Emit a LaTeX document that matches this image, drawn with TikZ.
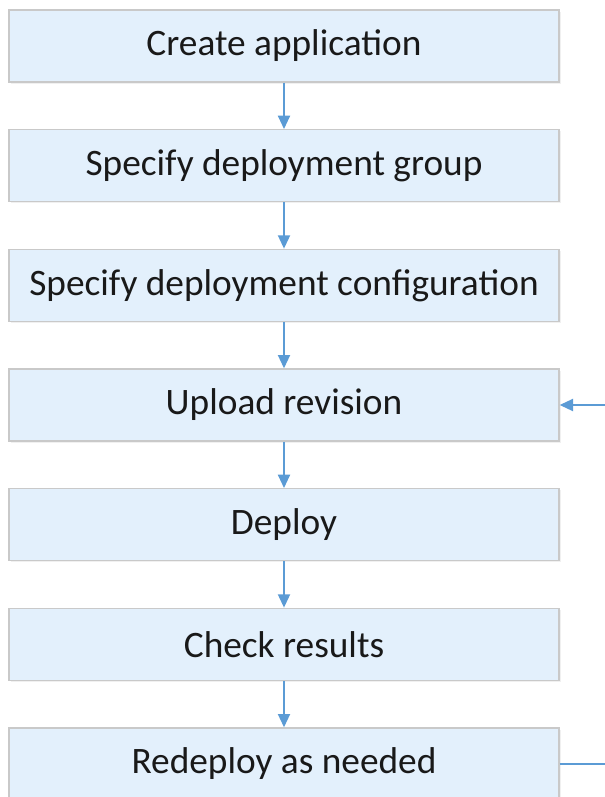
\documentclass[tikz,border=0pt]{standalone}
\usepackage{fontspec}
\setmainfont{Carlito}
\usepackage{tikz}
\usetikzlibrary{positioning,shadows,arrows.meta}

\definecolor{boxfill}{HTML}{E3F0FC}
\definecolor{boxline}{HTML}{C9C9C9}
\definecolor{flowblue}{HTML}{5B9BD5}

\tikzset{
  stepbox/.style={draw=boxline,line width=1pt,fill=boxfill,
    minimum width=412.5pt,minimum height=54pt,inner sep=0pt,
    font=\fontsize{28}{32}\selectfont,text=black!90,
    drop shadow={opacity=0.12,shadow xshift=1.2pt,shadow yshift=-1.2pt}},
  flow/.style={draw=flowblue,line width=1.4pt,-{Triangle[width=9pt,length=10pt]}},
  flowline/.style={draw=flowblue,line width=1.4pt}
}

\begin{document}
\begin{tikzpicture}[x=0.75pt,y=-0.75pt]
\useasboundingbox (0,0) rectangle (605,797);

\node (create) at (284,46)[stepbox]{Create application};
\node (group) at (284,165.7)[stepbox]{Specify deployment group};
\node (config) at (284,285.3)[stepbox]{Specify deployment configuration};
\node (upload) at (284,405)[stepbox]{Upload revision};
\node (deploy) at (284,524.7)[stepbox]{Deploy};
\node (check) at (284,644.3)[stepbox]{Check results};
\node (redeploy) at (284,764)[stepbox]{Redeploy as needed};

\coordinate (back-in) at (605,405);
\coordinate (back-out) at (605,764);

\draw[flow] (create)--(group);
\draw[flow] (group)--(config);
\draw[flow] (config)--(upload);
\draw[flow] (upload)--(deploy);
\draw[flow] (deploy)--(check);
\draw[flow] (check)--(redeploy);

% loop back, cut off at the right edge
\draw[flowline] (redeploy.east)--(back-out);
\draw[flow] (back-in)--(upload.east);

\end{tikzpicture}
\end{document}
